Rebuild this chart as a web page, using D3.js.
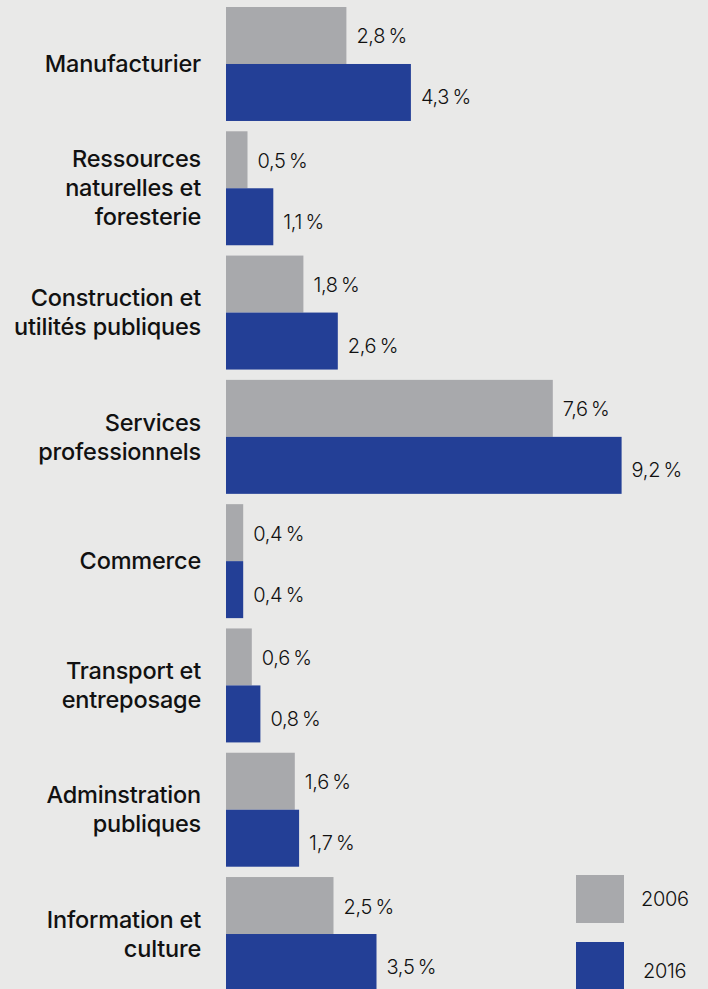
<!DOCTYPE html>
<html><head><meta charset="utf-8">
<script src="https://cdn.jsdelivr.net/npm/d3@7"></script>
<style>
html,body{margin:0;padding:0;background:#e9e9e8;}
svg{display:block;}
</style></head>
<body>
<script>
const categories = [
  ["Manufacturier"],
  ["Ressources", "naturelles et", "foresterie"],
  ["Construction et", "utilités publiques"],
  ["Services", "professionnels"],
  ["Commerce"],
  ["Transport et", "entreposage"],
  ["Adminstration", "publiques"],
  ["Information et", "culture"]
];
const values2006 = [2.8, 0.5, 1.8, 7.6, 0.4, 0.6, 1.6, 2.5];
const values2016 = [4.3, 1.1, 2.6, 9.2, 0.4, 0.8, 1.7, 3.5];
const seriesNames = ["2006", "2016"];
const colors = ["#a8a9ac", "#233f96"];

const W = 708, H = 989;
const fontFamily = "Inter, 'Open Sans', sans-serif";
const svg = d3.select("body").append("svg").attr("width", W).attr("height", H);
svg.append("rect").attr("width", W).attr("height", H).attr("fill", "#e9e9e8");

const x0 = 226;
const x = d3.scaleLinear().domain([0, 10]).range([x0, x0 + 430]);
const y = d3.scaleBand().domain(d3.range(categories.length)).range([7, 991]).paddingInner(0.083).paddingOuter(0).align(0);
const ySub = d3.scaleBand().domain([0, 1]).range([0, y.bandwidth()]);

const data = categories.map((c, i) => ({c, i, vals: [values2006[i], values2016[i]]}));
const fmt = v => d3.format(".1f")(v).replace(".", ",") + "\u2009%";

const g = svg.selectAll("g.grp").data(data).join("g").attr("class", "grp")
  .attr("transform", d => `translate(0,${y(d.i)})`);

g.selectAll("rect").data(d => d.vals).join("rect")
  .attr("x", x0).attr("y", (v, j) => ySub(j))
  .attr("width", v => x(v) - x0).attr("height", ySub.bandwidth())
  .attr("fill", (v, j) => colors[j]);

g.selectAll("text.val").data(d => d.vals).join("text").attr("class", "val")
  .attr("x", v => x(v) + 10).attr("y", (v, j) => ySub(j) + ySub.bandwidth() / 2 + (j === 0 ? 1 : 5))
  .attr("dy", "0.35em")
  .attr("font-family", fontFamily).attr("font-size", 20).attr("font-weight", 300).attr("fill", "#111")
  .attr("letter-spacing", "-0.3")
  .text(v => fmt(v));

g.each(function(d) {
  const n = d.c.length, lh = 29;
  const cy = y.bandwidth() / 2;
  const t = d3.select(this).append("text")
    .attr("text-anchor", "end").attr("font-family", fontFamily)
    .attr("font-size", 23.5).attr("font-weight", 500).attr("fill", "#111")
    .attr("letter-spacing", "-0.2");
  d.c.forEach((line, k) => {
    t.append("tspan").attr("x", 201).attr("y", cy + (k - (n - 1) / 2) * lh).attr("dy", "0.35em").text(line);
  });
});

// legend
const leg = svg.selectAll("g.leg").data(seriesNames).join("g").attr("class", "leg")
  .attr("transform", (d, j) => `translate(576,${875 + j * 67})`);
leg.append("rect").attr("width", 48).attr("height", 48).attr("fill", (d, j) => colors[j]);
leg.append("text").attr("x", (d, j) => 65 + j * 2).attr("y", (d, j) => 24 + j * 5).attr("dy", "0.35em")
  .attr("font-family", fontFamily).attr("font-size", 20).attr("font-weight", 300).attr("letter-spacing", "-0.3").attr("fill", "#111").text(d => d);
</script>
</body></html>
